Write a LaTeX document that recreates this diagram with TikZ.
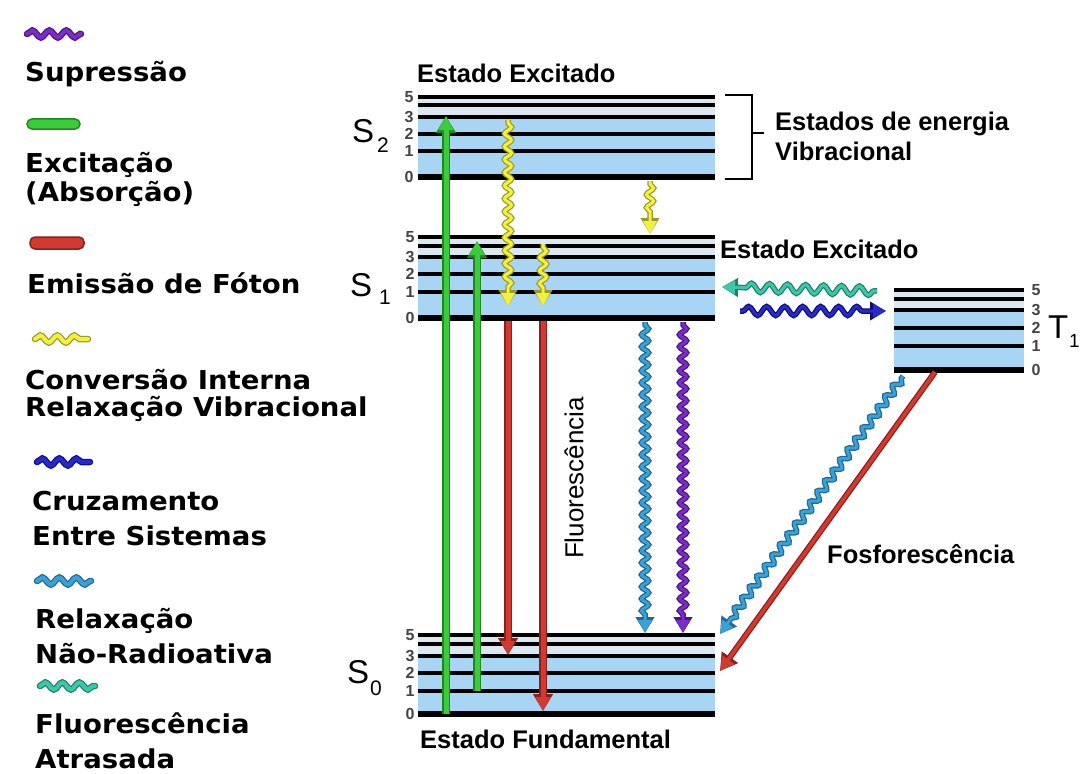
\documentclass[tikz,border=0pt]{standalone}
\usepackage{fontspec}
\setmainfont{Liberation Sans}
\newfontfamily\legfont{DejaVu Sans}
\usetikzlibrary{arrows.meta,decorations.pathmorphing}
\definecolor{bandblue}{HTML}{A9D5F5}
\definecolor{bandtop}{HTML}{DCE8F1}
\definecolor{grnI}{HTML}{3CCB3C}
\definecolor{grnO}{HTML}{1E8A1E}
\definecolor{redI}{HTML}{D03A30}
\definecolor{redO}{HTML}{8E1E1A}
\definecolor{ylwI}{HTML}{F4F040}
\definecolor{ylwO}{HTML}{9A9A28}
\definecolor{purI}{HTML}{7A2CC8}
\definecolor{purO}{HTML}{4A1680}
\definecolor{bluI}{HTML}{2828D0}
\definecolor{bluO}{HTML}{101070}
\definecolor{stlI}{HTML}{3AA0D8}
\definecolor{stlO}{HTML}{1E6A90}
\definecolor{tealI}{HTML}{3CC8A8}
\definecolor{tealO}{HTML}{1E806A}
\definecolor{lvlgray}{HTML}{444444}
\newcommand\lgx[1]{\scalebox{1.06}[1]{#1}}
\tikzset{
 legtxt/.style={anchor=base west, inner sep=0, font=\legfont\bfseries\fontsize{26}{30}\selectfont},
 dtxt/.style={anchor=base west, inner sep=0, font=\bfseries\fontsize{25.5}{30}\selectfont},
 lvlnum/.style={inner sep=0, text=lvlgray, font=\bfseries\fontsize{16}{16}\selectfont},
 bigS/.style={anchor=base west, inner sep=0, font=\fontsize{33}{36}\selectfont},
 subS/.style={anchor=base west, inner sep=0, font=\fontsize{21}{24}\selectfont},
 lvl/.style={line width=4pt, black},
 wv/.style={decorate, decoration={snake, amplitude=3.5pt, segment length=12pt, pre length=3pt, post length=17pt}},
}
\newcommand\wavyarr[5][]{%
 \draw[wv,#1, line width=5.5pt, draw=#2, -{Triangle[length=16pt,width=18pt]}] (#4) -- (#5);
 \draw[wv,#1, line width=3pt, draw=#3, -{Triangle[length=13pt,width=13pt]}] (#4) -- (#5);
}
\newcommand\strarr[4]{%
 \draw[line width=8pt, draw=#1, -{Triangle[length=17pt,width=19pt]}] (#3) -- (#4);
 \draw[line width=5pt, draw=#2, -{Triangle[length=14pt,width=14pt]}] (#3) -- (#4);
}
\newcommand\legwave[4]{%
 \draw[decorate, decoration={snake, amplitude=3.5pt, segment length=17pt}, line width=6.5pt, draw=#1, line cap=round] (#3) -- (#4);
 \draw[decorate, decoration={snake, amplitude=3.5pt, segment length=17pt}, line width=4pt, draw=#2, line cap=round] (#3) -- (#4);
}
\newcommand\energyband[8]{%
 \fill[bandtop] (#1,#3) rectangle (#2,#5);
 \fill[bandblue] (#1,#5) rectangle (#2,#8);
 \foreach \yy in {#3,#4,#5,#6,#7} {\draw[lvl] (#1,\yy) -- (#2,\yy);}
 \draw[lvl, line width=5.5pt] (#1,#8) -- (#2,#8);
}
\begin{document}
\begin{tikzpicture}[x=1pt,y=-1pt]
\useasboundingbox (0,0) rectangle (1083,773);
\clip (0,0) rectangle (1083,773);
\fill[white] (0,0) rectangle (1083,773);

% ---------- energy bands ----------
\energyband{418}{715}{97}{105}{117}{134}{151}{177}
\energyband{418}{715}{237}{246}{257}{274}{292}{318}
\energyband{418}{715}{635}{644}{656}{673}{691}{714}
\energyband{894}{1024}{290}{299}{310}{328}{346}{370}

% level numbers
\foreach \n/\yy [count=\i] in {5/97,3/117,2/134,1/151,0/177}
  {\node[lvlnum] (s2n\i) at (409,\yy) {\n};}
\foreach \n/\yy [count=\i] in {5/237,3/257,2/274,1/292,0/318}
  {\node[lvlnum] (s1n\i) at (410,\yy) {\n};}
\foreach \n/\yy [count=\i] in {5/635,3/656,2/673,1/691,0/714}
  {\node[lvlnum] (s0n\i) at (410,\yy) {\n};}
\foreach \n/\yy [count=\i] in {5/290,3/310,2/328,1/346,0/370}
  {\node[lvlnum] (t1n\i) at (1036,\yy) {\n};}

% state labels
\node[bigS] (S2) at (352,142) {S};
\node[subS] (S2s) at (377,152) {2};
\node[bigS] (S1) at (350,296) {S};
\node[subS] (S1s) at (379,304) {1};
\node[bigS] (S0) at (347,683) {S};
\node[subS] (S0s) at (370,695) {0};
\node[bigS, font=\fontsize{33}{36}\selectfont] (T1) at (1048,338) {T};
\node[subS, font=\fontsize{19}{22}\selectfont] (T1s) at (1069,347) {1};

% texts in diagram
\node[dtxt] (exc2) at (417,83) {Estado Excitado};
\node[dtxt] (exc1) at (720,258) {Estado Excitado};
\node[dtxt] (fund) at (420,748) {Estado Fundamental};
\node[dtxt] (vib1) at (775,130) {Estados de energia};
\node[dtxt] (vib2) at (775,160) {Vibracional};
\node[dtxt] (fosf) at (827,563) {Fosforescência};
\node[rotate=90, inner sep=0, font=\fontsize{26}{30}\selectfont] (fluo) at (574,478) {Fluorescência};

% bracket
\coordinate (brA) at (725,95);
\coordinate (brB) at (752,95);
\coordinate (brC) at (752,179);
\coordinate (brD) at (725,179);
\coordinate (brM) at (752,133);
\coordinate (brT) at (764,133);
\draw[line width=1.5pt] (brA) -- (brB) -- (brC) -- (brD);
\draw[line width=1.5pt] (brM) -- (brT);

% ---------- arrow end points ----------
\coordinate (gA1) at (446,714); \coordinate (gA2) at (446,116);
\coordinate (gB1) at (477,691); \coordinate (gB2) at (477,241);
\coordinate (yA1) at (508,120); \coordinate (yA2) at (508,306);
\coordinate (yB1) at (543,244); \coordinate (yB2) at (543,306);
\coordinate (yC1) at (650,181); \coordinate (yC2) at (650,234);
\coordinate (rA1) at (508,321); \coordinate (rA2) at (508,655);
\coordinate (rB1) at (543,321); \coordinate (rB2) at (543,711);
\coordinate (sA1) at (645,322); \coordinate (sA2) at (645,633);
\coordinate (pA1) at (683,322); \coordinate (pA2) at (683,633);
\coordinate (tA1) at (877,291); \coordinate (tA2) at (722,287);
\coordinate (bA1) at (740,311); \coordinate (bA2) at (886,311);
\coordinate (sB1) at (903,376); \coordinate (sB2) at (720,634);
\coordinate (rC1) at (935,372); \coordinate (rC2) at (720,671);

% absorption
\strarr{grnO}{grnI}{gA1}{gA2}
\strarr{grnO}{grnI}{gB1}{gB2}
% fluorescence emission
\strarr{redO}{redI}{rA1}{rA2}
\strarr{redO}{redI}{rB1}{rB2}
% phosphorescence
\draw[line width=6pt, draw=redO, -{Triangle[length=17pt,width=19pt]}] (rC1) -- (rC2);
\draw[line width=3.5pt, draw=redI, -{Triangle[length=14pt,width=14pt]}] (rC1) -- (rC2);
% internal conversion
\wavyarr[decoration={segment length=13pt}]{ylwO}{ylwI}{yA1}{yA2}
\wavyarr[decoration={segment length=13pt, post length=16pt}]{ylwO}{ylwI}{yB1}{yB2}
\wavyarr[decoration={segment length=13pt, post length=16pt}]{ylwO}{ylwI}{yC1}{yC2}
% non radiative / quenching
\wavyarr{stlO}{stlI}{sA1}{sA2}
\wavyarr{purO}{purI}{pA1}{pA2}
\wavyarr[decoration={segment length=13pt}]{stlO}{stlI}{sB1}{sB2}
% delayed fluorescence and ISC
\wavyarr[decoration={amplitude=4.5pt, segment length=18pt}]{tealO}{tealI}{tA1}{tA2}
\wavyarr[decoration={amplitude=4.5pt, segment length=18pt}]{bluO}{bluI}{bA1}{bA2}

% ---------- legend ----------
\legwave{purO}{purI}{27,34}{81,34}
\node[legtxt] (lg1) at (25,82) {\lgx{Supressão}};
\draw[rounded corners=5pt, fill=grnI, draw=grnO, line width=1.5pt] (27,119) rectangle (80,129);
\node[legtxt] (lg2) at (25,172) {\lgx{Excitação}};
\node[legtxt] (lg3) at (25,201) {\lgx{(Absorção)}};
\draw[rounded corners=5pt, fill=redI, draw=redO, line width=1.5pt] (30,237) rectangle (84,249);
\node[legtxt] (lg4) at (27,293) {\lgx{Emissão de Fóton}};
\legwave{ylwO}{ylwI}{35,339}{88,339}
\node[legtxt] (lg5) at (25,389) {\lgx{Conversão Interna}};
\node[legtxt] (lg6) at (25,416) {\lgx{Relaxação Vibracional}};
\legwave{bluO}{bluI}{37,462}{90,462}
\node[legtxt] (lg7) at (32,510) {\lgx{Cruzamento}};
\node[legtxt] (lg8) at (32,545) {\lgx{Entre Sistemas}};
\legwave{stlO}{stlI}{37,581}{91,581}
\node[legtxt] (lg9) at (35,628) {\lgx{Relaxação}};
\node[legtxt] (lg10) at (35,663) {\lgx{Não-Radioativa}};
\legwave{tealO}{tealI}{40,686}{95,686}
\node[legtxt] (lg11) at (35,733) {\lgx{Fluorescência}};
\node[legtxt] (lg12) at (35,768) {\lgx{Atrasada}};
\end{tikzpicture}
\end{document}
